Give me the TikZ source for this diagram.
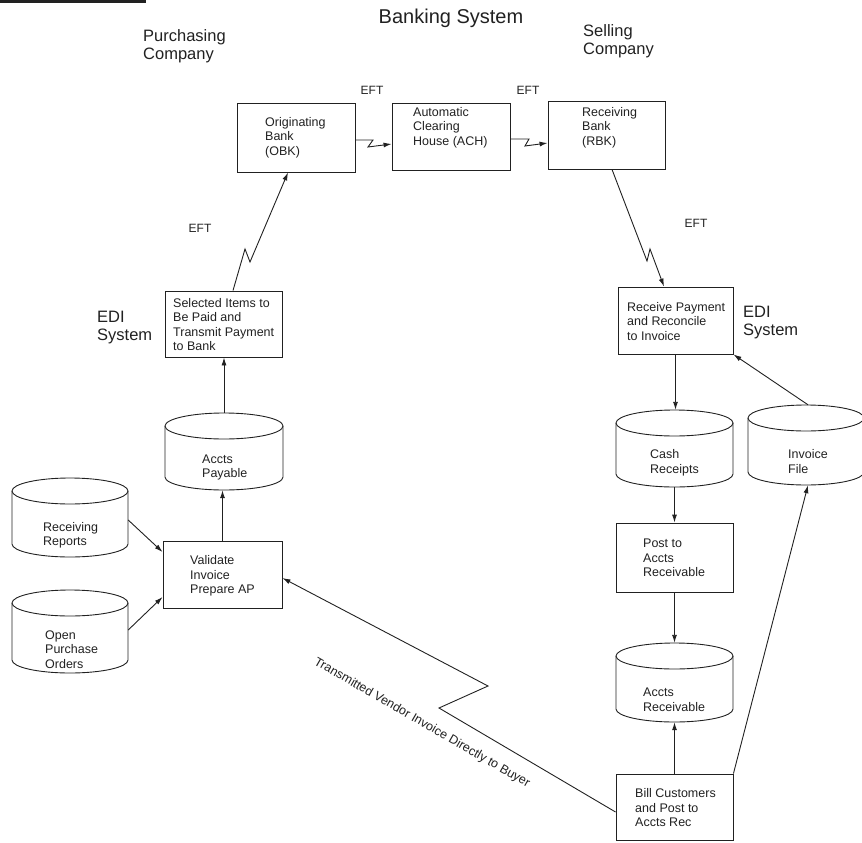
\documentclass[tikz,border=0pt]{standalone}
\usepackage{fontspec}
\setmainfont{Liberation Sans}
\usetikzlibrary{arrows.meta,calc}
\definecolor{ink}{gray}{0.13}

% storage drum: name, left x, right x, top y, bottom y, cap radius
\newcommand{\dbdrum}[6]{%
  \node[inner sep=0pt, minimum width={(#3-#2)*1pt}, minimum height={(#5-#4)*1pt}] (#1) at ({(#2+#3)/2},{(#4+#5)/2}) {};
  \draw[outline] ({(#2+#3)/2},{#4+#6}) ellipse [x radius={(#3-#2)/2*1pt}, y radius={#6*1pt}];
  \draw[outline] (#2,{#4+#6}) -- (#2,{#5-#6}) arc[start angle=180, end angle=360, x radius={(#3-#2)/2*1pt}, y radius={#6*1pt}] -- (#3,{#4+#6});
}

\tikzset{
  outline/.style={draw=ink, line width=0.9pt},
  procbox/.style={outline, inner sep=0pt},
  boxtext/.style={text=ink, inner sep=0pt, anchor=west, align=left, font=\fontsize{12.5}{14.5}\selectfont},
  efttext/.style={text=ink, inner sep=0pt, font=\fontsize{12}{14}\selectfont},
  headtext/.style={text=ink, inner sep=0pt, anchor=west, align=left, font=\fontsize{16.5}{18.5}\selectfont},
  flow/.style={draw=ink, line width=0.9pt, line join=miter, -{Latex[length=8pt,width=5pt]}},
}

\begin{document}
\begin{tikzpicture}[x=1pt,y=-1pt]
\useasboundingbox (0,0) rectangle (862,843);

% rule at the top edge
\fill[ink] (0,0) rectangle (146,3);

% headings
\node[text=ink, inner sep=0pt, font=\fontsize{20}{22}\selectfont] (bank) at (451,18) {Banking System};
\node[headtext] (buyer) at (143,46) {Purchasing\\Company};
\node[headtext] (seller) at (583,41) {Selling\\Company};
\node[headtext] (edil) at (97,327.5) {EDI\\System};
\node[headtext] (edir) at (743,322.5) {EDI\\System};

% banks
\node[procbox, minimum width=118pt, minimum height=69pt] (obk) at (296,137.5) {};
\node[procbox, minimum width=118pt, minimum height=67pt] (ach) at (451,136.5) {};
\node[procbox, minimum width=117pt, minimum height=68pt] (rbk) at (606.5,135) {};
\node[boxtext] (obkt) at (265,137.5) {Originating\\Bank\\(OBK)};
\node[boxtext] (acht) at (413,127.5) {Automatic\\Clearing\\House (ACH)};
\node[boxtext] (rbkt) at (582,127.5) {Receiving\\Bank\\(RBK)};

% purchasing side
\node[procbox, minimum width=117pt, minimum height=66pt] (sel) at (223.5,324) {};
\node[boxtext] (selt) at (173,324.5) {Selected Items to\\Be Paid and\\Transmit Payment\\to Bank};
\node[procbox, minimum width=119pt, minimum height=67pt] (val) at (222.5,574.5) {};
\node[boxtext] (valt) at (190,576) {Validate\\Invoice\\Prepare AP};
\dbdrum{ap}{165}{283}{413}{490}{13}
\node[boxtext] (apt) at (202,467.5) {Accts\\Payable};
\dbdrum{rr}{12}{128}{478}{557}{13}
\node[boxtext] (rrt) at (43,535.5) {Receiving\\Reports};
\dbdrum{opo}{12}{128}{590}{673}{13}
\node[boxtext] (opot) at (45,649.5) {Open\\Purchase\\Orders};

% selling side
\node[procbox, minimum width=115pt, minimum height=67pt] (rcv) at (675.5,320.5) {};
\node[boxtext] (rcvt) at (627,321.5) {Receive Payment\\and Reconcile\\to Invoice};
\dbdrum{cash}{616}{733}{410}{487}{13}
\node[boxtext] (casht) at (650,463) {Cash\\Receipts};
\dbdrum{inv}{748}{864}{405}{485}{13}
\node[boxtext] (invt) at (788,461.5) {Invoice\\File};
\node[procbox, minimum width=117pt, minimum height=69pt] (post) at (674.5,557.5) {};
\node[boxtext] (postt) at (643,558) {Post to\\Accts\\Receivable};
\dbdrum{ar}{616}{733}{643}{722}{13}
\node[boxtext] (art) at (643,700) {Accts\\Receivable};
\node[procbox, minimum width=117pt, minimum height=66pt] (bill) at (674.5,807) {};
\node[boxtext] (billt) at (635,808) {Bill Customers\\and Post to\\Accts Rec};

% EFT labels
\node[efttext] (eft1) at (372,90) {EFT};
\node[efttext] (eft2) at (528,90) {EFT};
\node[efttext] (eft3) at (200,228) {EFT};
\node[efttext] (eft4) at (696,223) {EFT};

% electronic transfers (zigzag links)
\draw[flow] ($(sel.north)+(9.5,0)$) -- (245,249) -- (250,262) -- ($(obk.south)+(-8,0)$);
\draw[flow] ($(obk.east)+(0,2.5)$) -- (373,140) -- (368,147) -- ($(ach.west)+(0,7.5)$);
\draw[flow] ($(ach.east)+(0,2.5)$) -- (529,139) -- (525,146) -- ($(rbk.west)+(0,8)$);
\draw[flow] ($(rbk.south)+(5.5,0)$) -- (647,261) -- (650,249) -- ($(rcv.north)+(-11.5,0)$);

% purchasing flows
\draw[flow] (ap.north) -- (ap.north |- sel.south);
\draw[flow] (val.north) -- (val.north |- ap.south);
\draw[flow] ($(rr.east)+(0,2.5)$) -- ($(val.west)+(0,-22.5)$);
\draw[flow] ($(opo.east)+(0,-1.5)$) -- ($(val.west)+(0,22.5)$);

% selling flows
\draw[flow] (rcv.south) -- (rcv.south |- cash.north);
\draw[flow] (cash.south) -- (cash.south |- post.north);
\draw[flow] (post.south) -- (post.south |- ar.north);
\draw[flow] (bill.north) -- (bill.north |- ar.south);
\draw[flow] (bill.north east) -- ($(inv.south)+(2,0)$);
\draw[flow] ($(inv.north)+(2,0)$) -- (rcv.south east);

% invoice sent straight to the buyer
\draw[flow] ($(bill.west)+(0,5)$) -- (439,708) -- (488,686) -- ($(val.east)+(0,3.5)$);
\node[text=ink, inner sep=0pt, rotate=-30, font=\fontsize{12.5}{14.5}\selectfont] (vinv) at (422,723) {Transmitted Vendor Invoice Directly to Buyer};

\end{tikzpicture}
\end{document}
